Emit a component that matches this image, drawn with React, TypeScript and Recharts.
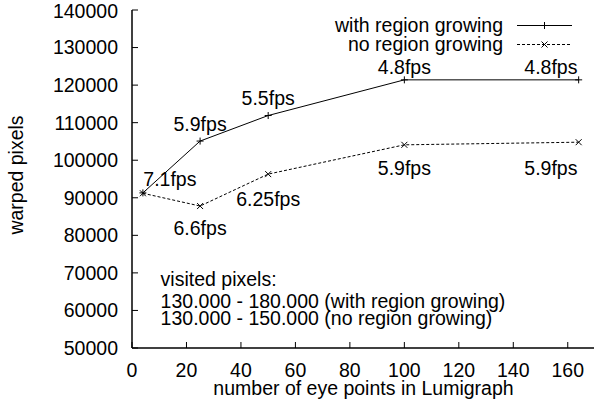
import { LineChart, Line, XAxis, YAxis, ReferenceDot, Legend } from 'recharts';

const FONT = '"Liberation Sans", Arial, Helvetica, sans-serif';
const FONT_SIZE = 19.5;

// eye points in the Lumigraph vs. warped pixels
const EYE_POINTS = [4, 25, 50, 100, 164];
const WITH_REGION_GROWING = [91300, 105100, 111900, 121400, 121400];
const NO_REGION_GROWING = [91200, 87800, 96300, 104100, 104800];
const SERIES_NAMES = ['with region growing', 'no region growing'];

const X_TICKS = [0, 20, 40, 60, 80, 100, 120, 140, 160];
const Y_TICKS = [50000, 60000, 70000, 80000, 90000, 100000, 110000, 120000, 130000, 140000];

// frame rate annotations, placed in data coordinates
const FPS_TEXT = ['7.1fps', '5.9fps', '5.5fps', '4.8fps', '4.8fps', '6.6fps', '6.25fps', '5.9fps', '5.9fps'];
const FPS_X = [13.9, 25, 50, 100, 153.8, 25, 50, 100, 153.8];
const FPS_Y = [95000, 109650, 116550, 124800, 124800, 81950, 89700, 97950, 97950];

const NOTE_LINES = [
  'visited pixels:',
  '130.000 - 180.000 (with region growing)',
  '130.000 - 150.000 (no region growing)',
];
const NOTE_X = 10.5;
const NOTE_Y = [68400, 62550, 58000];

const data = EYE_POINTS.map((x, i) => ({
  x,
  withRg: WITH_REGION_GROWING[i],
  noRg: NO_REGION_GROWING[i],
}));

const PlusDot = (props: any) => {
  const { cx, cy } = props;
  if (cx == null || cy == null) return null;
  return <path d={`M${cx - 3.5},${cy}h7M${cx},${cy - 3.5}v7`} stroke="#000" strokeWidth={1} fill="none" />;
};

const CrossDot = (props: any) => {
  const { cx, cy } = props;
  if (cx == null || cy == null) return null;
  return <path d={`M${cx - 3},${cy - 3}l6,6M${cx - 3},${cy + 3}l6,-6`} stroke="#000" strokeWidth={1} fill="none" />;
};

const PlotText = (props: any) => {
  const { viewBox, text, anchor } = props;
  if (!viewBox) return null;
  return (
    <text
      x={viewBox.x}
      y={viewBox.y}
      dy="0.35em"
      textAnchor={anchor}
      fontSize={FONT_SIZE}
      fontFamily={FONT}
      fill="#000"
    >
      {text}
    </text>
  );
};

const XTitle = (props: any) => {
  const { viewBox } = props;
  return (
    <text x={viewBox.x + viewBox.width / 2} y={viewBox.y + 40} dy="0.35em" textAnchor="middle"
      fontSize={FONT_SIZE} fontFamily={FONT} fill="#000">
      number of eye points in Lumigraph
    </text>
  );
};

const YTitle = (props: any) => {
  const { viewBox } = props;
  const cx = viewBox.x + 16.5;
  const cy = viewBox.y + viewBox.height / 2 - 4;
  return (
    <text x={cx} y={cy} dy="0.35em" textAnchor="middle" transform={`rotate(-90 ${cx} ${cy})`}
      fontSize={FONT_SIZE} fontFamily={FONT} fill="#000">
      warped pixels
    </text>
  );
};

const EmptyTick = () => <g />;

const renderLegend = () => (
  <div style={{ fontFamily: FONT, fontSize: FONT_SIZE, lineHeight: '19px', color: '#000' }}>
    {SERIES_NAMES.map((name, i) => (
      <div key={name} style={{ display: 'flex', justifyContent: 'flex-end', alignItems: 'flex-start', height: 19 }}>
        <span style={{ whiteSpace: 'nowrap' }}>{name}</span>
        <svg width={55} height={19} style={{ marginLeft: 14, marginRight: 8, display: 'block' }}>
          <line x1={0} y1={9.5} x2={55} y2={9.5} stroke="#000" strokeWidth={1}
            strokeDasharray={i === 0 ? undefined : '3 2'} />
          {i === 0 ? <PlusDot cx={27.5} cy={9.5} /> : <CrossDot cx={27.5} cy={9.5} />}
        </svg>
      </div>
    ))}
  </div>
);

export default function App() {
  const tickStyle = { fontSize: FONT_SIZE, fill: '#000', fontFamily: FONT };
  const axisLine = { stroke: '#000', strokeWidth: 1.5 };
  return (
    <div style={{ position: 'absolute', left: 0, top: 0, width: 594, height: 403, overflow: 'hidden', background: '#fff' }}>
      <LineChart width={598} height={403} data={data} margin={{ top: 10, right: 3, bottom: 0, left: 0 }}>
        <XAxis
          dataKey="x"
          type="number"
          domain={[0, 170]}
          ticks={X_TICKS}
          allowDataOverflow
          height={55}
          tickSize={-6}
          tickMargin={21}
          tick={tickStyle}
          axisLine={axisLine}
          tickLine={{ stroke: '#000', strokeWidth: 1 }}
          label={<XTitle />}
        />
        <XAxis
          xAxisId="top"
          orientation="top"
          dataKey="x"
          type="number"
          domain={[0, 170]}
          ticks={X_TICKS}
          allowDataOverflow
          height={0}
          tickSize={-6}
          tick={<EmptyTick />}
          axisLine={axisLine}
          tickLine={{ stroke: '#000', strokeWidth: 1 }}
        />
        <YAxis
          type="number"
          domain={[50000, 140000]}
          ticks={Y_TICKS}
          allowDataOverflow
          width={132}
          tickSize={-6}
          tickMargin={20}
          tick={tickStyle}
          axisLine={axisLine}
          tickLine={{ stroke: '#000', strokeWidth: 1 }}
          label={<YTitle />}
        />
        <YAxis
          yAxisId="right"
          orientation="right"
          type="number"
          domain={[50000, 140000]}
          ticks={Y_TICKS}
          allowDataOverflow
          width={0}
          tickSize={-6}
          tick={<EmptyTick />}
          axisLine={axisLine}
          tickLine={{ stroke: '#000', strokeWidth: 1 }}
        />
        <Legend
          layout="horizontal"
          verticalAlign="middle"
          align="center"
          wrapperStyle={{ top: 16, left: 0, right: 'auto', bottom: 'auto', width: 580 }}
          content={renderLegend}
        />
        <Line
          type="linear"
          dataKey="withRg"
          name={SERIES_NAMES[0]}
          stroke="#000"
          strokeWidth={1}
          dot={<PlusDot />}
          activeDot={false}
          isAnimationActive={false}
        />
        <Line
          type="linear"
          dataKey="noRg"
          name={SERIES_NAMES[1]}
          stroke="#000"
          strokeWidth={1}
          strokeDasharray="3 2"
          dot={<CrossDot />}
          activeDot={false}
          isAnimationActive={false}
        />
        {FPS_TEXT.map((t, i) => (
          <ReferenceDot key={`fps-${i}`} x={FPS_X[i]} y={FPS_Y[i]} r={0} fill="none" stroke="none"
            label={<PlotText text={t} anchor="middle" />} />
        ))}
        {NOTE_LINES.map((t, i) => (
          <ReferenceDot key={`note-${i}`} x={NOTE_X} y={NOTE_Y[i]} r={0} fill="none" stroke="none"
            label={<PlotText text={t} anchor="start" />} />
        ))}
      </LineChart>
    </div>
  );
}
